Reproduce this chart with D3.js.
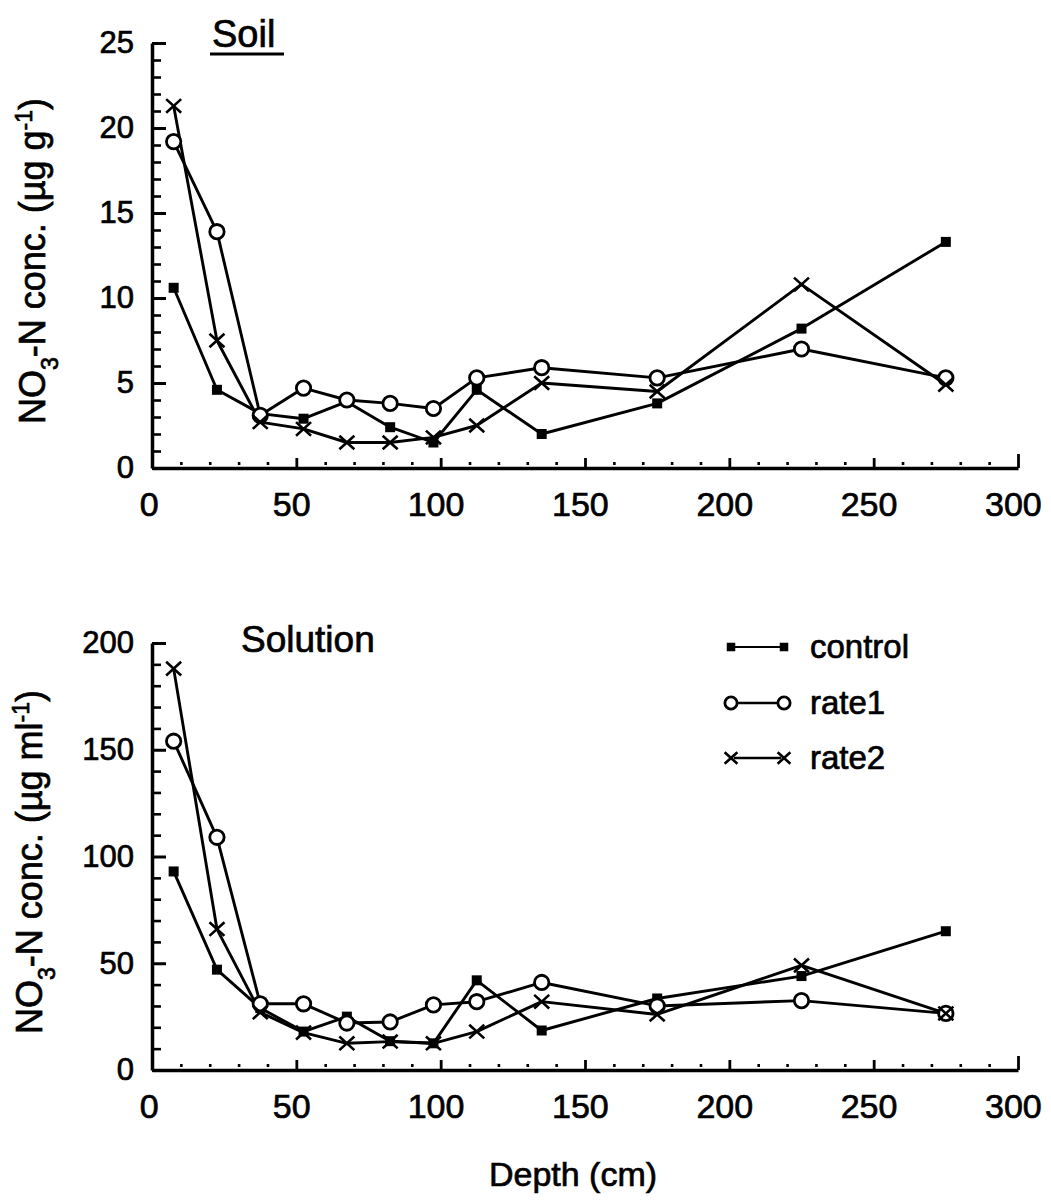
<!DOCTYPE html>
<html>
<head>
<meta charset="utf-8">
<script src="https://cdn.jsdelivr.net/npm/d3@7"></script>
<style>
  body { margin: 0; background: #fff; }
  svg text { font-family: "Liberation Sans", Arial, Helvetica, sans-serif; fill: #000; stroke: #000; stroke-width: 0.7px; }
</style>
</head>
<body>
<svg id="chart" width="1051" height="1204"></svg>
<script>
// Sampling depths (cm), shared by both panels
const depths = [7.5, 22.5, 37.5, 52.5, 67.5, 82.5, 97.5, 112.5, 135, 175, 225, 275];

// Soil NO3-N concentration (µg g-1)
const soilControl = [10.6, 4.6, 3.2, 2.9, 3.9, 2.4, 1.5, 4.6, 2.0, 3.8, 8.2, 13.3];
const soilRate1   = [19.2, 13.9, 3.1, 4.7, 4.0, 3.8, 3.5, 5.3, 5.9, 5.3, 7.0, 5.3];
const soilRate2   = [21.3, 7.5, 2.7, 2.3, 1.5, 1.5, 1.8, 2.5, 5.0, 4.5, 10.8, 4.9];

// Soil solution NO3-N concentration (µg ml-1)
const solControl = [93, 47, 29, 18, 25, 13.5, 12.5, 42, 18.5, 33.5, 44, 65];
const solRate1   = [154, 109, 31, 31, 22, 22.5, 30.5, 32, 41, 30, 32.5, 26.5];
const solRate2   = [188, 66, 27, 17.5, 12.5, 13.3, 12.5, 18, 32, 26, 49, 26.5];

// Tick values
const xTicks = [0, 50, 100, 150, 200, 250, 300];
const xMinorTicks = d3.range(10, 300, 10).filter(v => v % 50 !== 0);
const soilYTicks = [0, 5, 10, 15, 20, 25];
const soilYMinor = d3.range(1, 25, 1).filter(v => v % 5 !== 0);
const solYTicks = [0, 50, 100, 150, 200];
const solYMinor = d3.range(10, 200, 10).filter(v => v % 50 !== 0);

const seriesNames = ["control", "rate1", "rate2"];
const markerKinds = ["square", "circle", "cross"];

const svg = d3.select("#chart");

function drawMarker(g, kind, cx, cy, s) {
  if (kind === "square") {
    g.append("rect").attr("x", cx - 5 * s).attr("y", cy - 5 * s)
      .attr("width", 10 * s).attr("height", 10 * s).attr("fill", "#000");
  } else if (kind === "circle") {
    g.append("circle").attr("cx", cx).attr("cy", cy).attr("r", 7.2 * s)
      .attr("fill", "#fff").attr("stroke", "#000").attr("stroke-width", 2.8);
  } else {
    const w = 7.5 * s, h = 6.8 * s;
    g.append("path")
      .attr("d", `M${cx - w},${cy - h}L${cx + w},${cy + h}M${cx - w},${cy + h}L${cx + w},${cy - h}`)
      .attr("stroke", "#000").attr("stroke-width", 2.6).attr("fill", "none");
  }
}

function panel(cfg) {
  const x = d3.scaleLinear().domain([0, 300]).range([152, 1018]);
  const y = d3.scaleLinear().domain([0, cfg.yMax]).range([cfg.bottom, cfg.top]);
  const g = svg.append("g");

  // y axis: major ticks pointing into the plot, labels outside
  const yAxis = g.append("g").attr("transform", `translate(${x(0)},0)`)
    .call(d3.axisLeft(y).tickValues(cfg.yTicks).tickSizeInner(-14).tickSizeOuter(0)
      .tickPadding(18).tickFormat(d3.format("d")));
  yAxis.select(".domain").attr("stroke-width", 3.5);
  yAxis.selectAll(".tick line").attr("stroke", "#000").attr("stroke-width", 3);
  yAxis.selectAll(".tick text").style("font-size", "31px").attr("font-family", null);

  const yMinor = g.append("g").attr("transform", `translate(${x(0)},0)`)
    .call(d3.axisLeft(y).tickValues(cfg.yMinor).tickSizeInner(-9).tickSizeOuter(0).tickFormat(""));
  yMinor.select(".domain").remove();
  yMinor.selectAll(".tick line").attr("stroke", "#000").attr("stroke-width", 2.6);

  // x axis: major ticks pointing up, short minor ticks every 10 cm
  const xAxis = g.append("g").attr("transform", `translate(0,${y(0)})`)
    .call(d3.axisBottom(x).tickValues(xTicks).tickSizeInner(-10).tickSizeOuter(0)
      .tickPadding(24).tickFormat(d3.format("d")));
  xAxis.select(".domain").attr("stroke-width", 3.5);
  xAxis.selectAll(".tick line").attr("stroke", "#000").attr("stroke-width", 2.8)
    .attr("y2", d => d === 300 ? -14 : (d === 0 ? 0 : -10));
  xAxis.selectAll(".tick text").style("font-size", "34px").attr("font-family", null)
    .attr("dx", d => d === 0 ? "-0.1em" : "-0.15em");

  const xMinor = g.append("g").attr("transform", `translate(0,${y(0)})`)
    .call(d3.axisBottom(x).tickValues(xMinorTicks).tickSizeInner(-6).tickSizeOuter(0).tickFormat(""));
  xMinor.select(".domain").remove();
  xMinor.selectAll(".tick line").attr("stroke", "#000").attr("stroke-width", 2.6)
    .attr("y1", -3).attr("y2", -6);

  // series lines
  const line = d3.line().x((d, i) => x(depths[i])).y(d => y(d));
  cfg.series.forEach(vals => {
    g.append("path").datum(vals).attr("d", line)
      .attr("fill", "none").attr("stroke", "#000").attr("stroke-width", 2.9)
      .attr("stroke-linejoin", "round");
  });
  // series markers
  cfg.series.forEach((vals, si) => {
    vals.forEach((v, i) => drawMarker(g, markerKinds[si], x(depths[i]), y(v), 1));
  });

  // y axis title
  const t = g.append("text")
    .attr("transform", `translate(${cfg.labelX},${cfg.labelY}) rotate(-90)`)
    .attr("text-anchor", "middle").style("font-size", "36px");
  t.append("tspan").text("NO");
  t.append("tspan").attr("baseline-shift", "sub").style("font-size", "23px").text("3");
  t.append("tspan").text("-N conc. (µg " + cfg.unit);
  t.append("tspan").attr("baseline-shift", "super").style("font-size", "23px").text("-1");
  t.append("tspan").text(")");

  return { x, y, g };
}

// Soil panel
panel({
  yMax: 25, top: 43, bottom: 468,
  yTicks: soilYTicks, yMinor: soilYMinor,
  series: [soilControl, soilRate1, soilRate2],
  unit: "g", labelX: 45, labelY: 261
});
svg.append("text").attr("x", 212).attr("y", 47).style("font-size", "38px").text("Soil");
svg.append("line").attr("x1", 210).attr("x2", 284).attr("y1", 54).attr("y2", 54)
  .attr("stroke", "#000").attr("stroke-width", 3);

// Solution panel
panel({
  yMax: 200, top: 643, bottom: 1070,
  yTicks: solYTicks, yMinor: solYMinor,
  series: [solControl, solRate1, solRate2],
  unit: "ml", labelX: 42, labelY: 862
});
svg.append("text").attr("x", 241).attr("y", 652).style("font-size", "37px").text("Solution");

// x axis title
svg.append("text").attr("x", 573).attr("y", 1186).attr("text-anchor", "middle")
  .style("font-size", "34px").text("Depth (cm)");

// legend
const legend = svg.append("g");
const legendRows = [647, 703, 758];
seriesNames.forEach((name, i) => {
  const ly = legendRows[i];
  legend.append("line").attr("x1", 734).attr("x2", 781).attr("y1", ly).attr("y2", ly)
    .attr("stroke", "#000").attr("stroke-width", i === 0 ? 1.8 : 2.4);
  drawMarker(legend, markerKinds[i], 731, ly, 0.85);
  drawMarker(legend, markerKinds[i], 784, ly, 0.85);
  legend.append("text").attr("x", 810).attr("y", ly + 11).style("font-size", "33px").text(name);
});
</script>
</body>
</html>
